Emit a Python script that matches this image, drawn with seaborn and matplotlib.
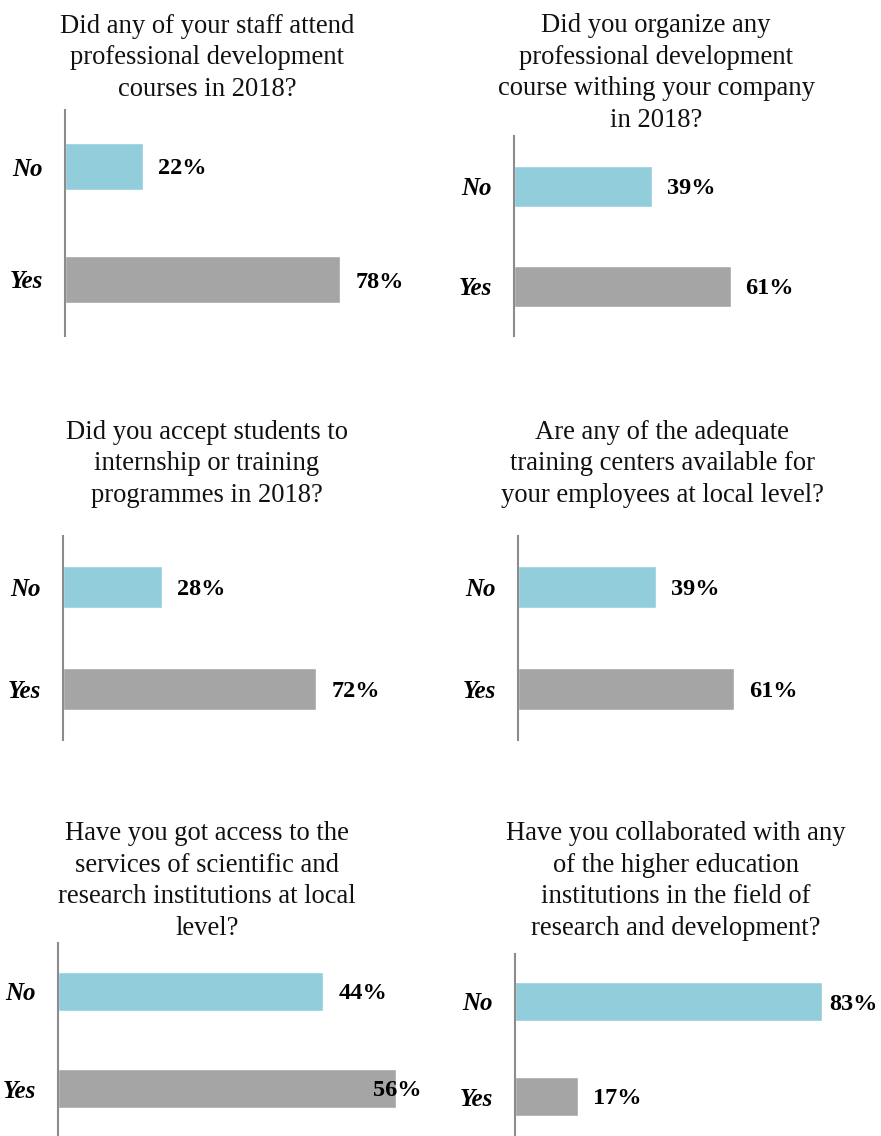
import matplotlib
matplotlib.use("Agg")
import matplotlib.pyplot as plt
import seaborn as sns
import pandas as pd

sns.set_theme(style="white")
plt.rcParams['font.family'] = ['Liberation Serif', 'DejaVu Serif']

categories = ["No", "Yes"]
titles = [
    "Did any of your staff attend\nprofessional development\ncourses in 2018?",
    "Did you organize any\nprofessional development\ncourse withing your company\nin 2018?",
    "Did you accept students to\ninternship or training\nprogrammes in 2018?",
    "Are any of the adequate\ntraining centers available for\nyour employees at local level?",
    "Have you got access to the\nservices of scientific and\nresearch institutions at local\nlevel?",
    "Have you collaborated with any\nof the higher education\ninstitutions in the field of\nresearch and development?",
]
no_values = [22, 39, 28, 39, 44, 83]
yes_values = [78, 61, 72, 61, 56, 17]

colors = {"No": "#92CDDC", "Yes": "#A5A5A5"}

W, H = 881, 1136
fig = plt.figure(figsize=(W / 100, H / 100), dpi=100)

# layout (pixels): axis left x, axis top y, axis bottom y, px per %, title center x, title center y, right limit
layout = [
    (65, 110, 336, 3.53, 207, 58, 421),
    (514, 136, 336, 3.55, 656, 73, 878),
    (63, 536, 740, 3.52, 207, 464, 421),
    (518, 536, 740, 3.54, 662, 464, 878),
    (58, 943, 1137, 6.03, 207, 881, 421),
    (515, 954, 1144, 3.70, 676, 881, 878),
]

axw = 360
for i, (lx, ty, by, scale, tcx, tcy, rlim) in enumerate(layout):
    ax = fig.add_axes([lx / W, 1 - by / H, axw / W, (by - ty) / H])
    df = pd.DataFrame({"answer": categories, "value": [no_values[i], yes_values[i]]})
    sns.barplot(data=df, y="answer", x="value", hue="answer", palette=colors,
                orient="h", width=0.41, legend=False, ax=ax, saturation=1)
    ax.set_xlim(0, axw / scale)
    ax.set_ylim(1.5, -0.5)
    ax.set_xlabel("")
    ax.set_ylabel("")
    ax.set_xticks([])
    for s in ["top", "right", "bottom"]:
        ax.spines[s].set_visible(False)
    ax.spines["left"].set_color("#8C8C8C")
    ax.spines["left"].set_linewidth(1.5)
    ax.tick_params(axis="y", length=0, pad=16)
    for lab in ax.get_yticklabels():
        lab.set_fontsize(18)
        lab.set_fontweight("bold")
        lab.set_fontstyle("italic")
        lab.set_color("black")
    ax.patch.set_alpha(0)
    vals = [no_values[i], yes_values[i]]
    for j, v in enumerate(vals):
        bar_end_px = lx + v * scale
        txt = f"{v}%"
        tw = 48
        if bar_end_px + 15 + tw > rlim:
            xpx = rlim
            ha = "right"
        else:
            xpx = bar_end_px + 15
            ha = "left"
        ax.text((xpx - lx) / scale, j, txt, ha=ha, va="center_baseline",
                fontsize=17.5, fontweight="bold", color="black")
    fig.text(tcx / W, 1 - tcy / H, titles[i], ha="center", va="center",
             fontsize=19.2, linespacing=1.36, color="#111111")

fig.savefig("out.png", dpi=100)
